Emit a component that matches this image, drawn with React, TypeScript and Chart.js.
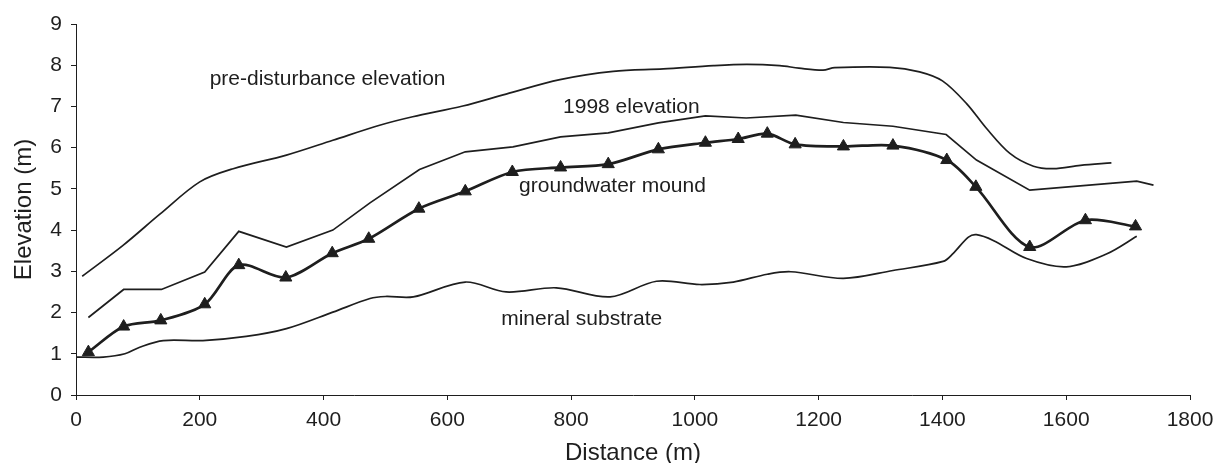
import React, { useEffect, useRef } from "react";
import { Chart, registerables } from "chart.js";

Chart.register(...registerables);

const FONT = "'Liberation Sans', Arial, Helvetica, sans-serif";
const INK = "#1e1e1e";

// pre-disturbance elevation
const preDisturbanceX = [10, 76, 135, 200, 254, 340, 415, 492, 544, 625, 695, 782, 868, 949, 1030, 1084, 1137, 1168, 1207, 1226, 1315, 1363, 1400, 1439, 1471, 1509, 1547, 1579, 1623, 1673];
const preDisturbanceY = [2.88, 3.63, 4.38, 5.17, 5.49, 5.82, 6.18, 6.55, 6.75, 7.01, 7.3, 7.65, 7.85, 7.91, 7.99, 8.02, 7.99, 7.93, 7.88, 7.94, 7.95, 7.84, 7.62, 7.07, 6.47, 5.86, 5.55, 5.49, 5.57, 5.63];

// 1998 elevation
const elev1998X = [20, 77, 138, 208, 263, 340, 415, 475, 555, 629, 706, 783, 860, 941, 1017, 1083, 1163, 1240, 1320, 1406, 1455, 1541, 1714, 1741];
const elev1998Y = [1.88, 2.56, 2.56, 2.98, 3.97, 3.59, 4.0, 4.66, 5.47, 5.9, 6.02, 6.26, 6.36, 6.6, 6.77, 6.72, 6.79, 6.61, 6.52, 6.32, 5.7, 4.97, 5.19, 5.09];

// groundwater mound
const moundX = [20, 77, 137, 208, 263, 339, 414, 473, 554, 629, 705, 783, 860, 941, 1017, 1070, 1117, 1162, 1240, 1320, 1407, 1454, 1541, 1631, 1712];
const moundY = [1.04, 1.66, 1.81, 2.2, 3.15, 2.85, 3.44, 3.79, 4.52, 4.94, 5.41, 5.52, 5.6, 5.96, 6.12, 6.21, 6.34, 6.08, 6.03, 6.05, 5.7, 5.05, 3.59, 4.24, 4.09];

// mineral substrate
const mineralX = [0, 44, 79, 103, 141, 205, 275, 340, 415, 475, 500, 545, 629, 695, 776, 863, 938, 1008, 1062, 1117, 1155, 1240, 1320, 1401, 1417, 1442, 1455, 1482, 1536, 1600, 1665, 1714];
const mineralY = [0.92, 0.92, 1.0, 1.16, 1.32, 1.32, 1.42, 1.61, 2.01, 2.34, 2.39, 2.38, 2.74, 2.5, 2.6, 2.38, 2.76, 2.68, 2.74, 2.93, 2.99, 2.83, 3.02, 3.24, 3.43, 3.83, 3.89, 3.75, 3.31, 3.11, 3.42, 3.85];

// in-plot curve labels (anchored in data units: left edge, text baseline)
const curveLabelText = ["pre-disturbance elevation", "1998 elevation", "groundwater mound", "mineral substrate"];
const curveLabelX = [216, 787, 716, 687];
const curveLabelY = [7.52, 6.84, 4.93, 1.71];

const toPoints = (xs: number[], ys: number[]) => xs.map((x, i) => ({ x, y: ys[i] }));

const curveLabelsPlugin = {
  id: "curveLabels",
  afterDatasetsDraw(chart: any) {
    const { ctx, scales } = chart;
    ctx.save();
    ctx.font = `21px ${FONT}`;
    ctx.fillStyle = INK;
    ctx.textAlign = "left";
    ctx.textBaseline = "alphabetic";
    curveLabelText.forEach((t, i) => {
      ctx.fillText(t, scales.x.getPixelForValue(curveLabelX[i]), scales.y.getPixelForValue(curveLabelY[i]));
    });
    ctx.restore();
  },
};

export default function App() {
  const ref = useRef<HTMLCanvasElement | null>(null);

  useEffect(() => {
    document.body.style.margin = "0";
    const canvas = ref.current;
    if (!canvas) return;
    const thin = { borderColor: INK, borderWidth: 1.7, pointRadius: 0, fill: false };
    const chart = new Chart(canvas, {
      type: "line",
      data: {
        datasets: [
          { ...thin, label: "pre-disturbance elevation", data: toPoints(preDisturbanceX, preDisturbanceY), tension: 0.33 },
          { ...thin, label: "1998 elevation", data: toPoints(elev1998X, elev1998Y), tension: 0 },
          {
            label: "groundwater mound",
            data: toPoints(moundX, moundY),
            borderColor: INK,
            borderWidth: 2.7,
            tension: 0.3,
            fill: false,
            pointStyle: "triangle",
            pointRadius: 7,
            pointBackgroundColor: INK,
            pointBorderColor: INK,
            pointBorderWidth: 1,
          },
          { ...thin, label: "mineral substrate", data: toPoints(mineralX, mineralY), tension: 0.33 },
        ],
      },
      options: {
        animation: false,
        responsive: false,
        devicePixelRatio: 1,
        layout: { padding: { left: 0, right: 26, top: 24, bottom: 0 } },
        plugins: { legend: { display: false }, tooltip: { enabled: false } },
        scales: {
          x: {
            type: "linear",
            min: 0,
            max: 1800,
            ticks: { stepSize: 200, font: { family: FONT, size: 21 }, color: INK, padding: 8, maxRotation: 0, autoSkip: false, callback: (v: any) => String(v) },
            grid: { display: true, drawOnChartArea: false, drawTicks: true, tickLength: 5, color: INK, lineWidth: 1 },
            border: { display: true, color: INK, width: 1 },
            title: { display: true, text: "Distance (m)", font: { family: FONT, size: 24 }, color: INK, padding: { top: 0, bottom: -5 } },
            afterFit: (s: any) => { s.height = 68; s.paddingRight = 0; s.paddingLeft = 0; },
          },
          y: {
            type: "linear",
            min: 0,
            max: 9,
            ticks: { stepSize: 1, font: { family: FONT, size: 21 }, color: INK, padding: 9, callback: (v: any) => String(v) },
            grid: { display: true, drawOnChartArea: false, drawTicks: true, tickLength: 5, color: INK, lineWidth: 1 },
            border: { display: true, color: INK, width: 1 },
            title: { display: true, text: "Elevation (m)", font: { family: FONT, size: 24 }, color: INK, padding: { top: 10, bottom: 0 } },
            afterFit: (s: any) => { s.width = 76; s.paddingTop = 0; s.paddingBottom = 0; },
          },
        },
      },
      plugins: [curveLabelsPlugin],
    });
    return () => chart.destroy();
  }, []);

  return (
    <div style={{ width: 1216, height: 463, background: "#fff" }}>
      <canvas ref={ref} width={1216} height={463} style={{ width: 1216, height: 463, display: "block" }} />
    </div>
  );
}
